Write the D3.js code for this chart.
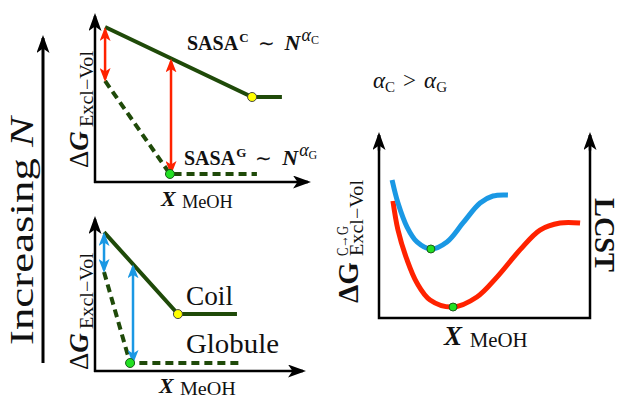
<!DOCTYPE html>
<html>
<head>
<meta charset="utf-8">
<script src="https://cdn.jsdelivr.net/npm/d3@7"></script>
<style>
  body { margin: 0; background: #fff; }
</style>
</head>
<body>
<div id="chart"></div>
<script>
// values, in arbitrary units 0..10
var topCoil = [[0.48, 9.28], [7.48, 5.09], [8.9, 5.09]];
var topGlobule = [[0.48, 6.05], [3.57, 0.48], [7.71, 0.48]];
var topArrowX = [0.48, 3.62];

var botCoil = [[0.43, 9.2], [3.95, 3.77], [6.76, 3.77]];
var botGlobule = [[0.43, 6.56], [1.67, 0.53], [6.9, 0.53]];
var botArrowX = [0.43, 1.81];

var blueCurve = [[0.62, 7.42], [0.9, 6.18], [1.33, 4.89], [1.8, 4.09], [2.46, 3.71],
  [3.22, 4.09], [3.98, 5.11], [4.79, 6.18], [5.4, 6.56], [6.11, 6.61]];
var redCurve = [[0.66, 6.29], [0.9, 4.73], [1.33, 3.12], [1.8, 1.88], [2.42, 0.97],
  [3.51, 0.59], [4.64, 1.13], [5.59, 2.2], [6.68, 3.66], [7.63, 4.73], [8.58, 5.11], [9.53, 5.11]];
var blueMin = [2.46, 3.71];
var redMin = [3.51, 0.59];

var width = 622, height = 399;
var green = '#1f4a09', red = '#ff2200', blue = '#1a98e4';
var serif = '"Liberation Serif", "Times New Roman", serif';

var svg = d3.select('#chart').append('svg')
  .attr('width', width)
  .attr('height', height)
  .style('font-family', serif)
  .style('fill', '#111');

var defs = svg.append('defs');
function marker(id, color, w, h) {
  defs.append('marker')
    .attr('id', id)
    .attr('viewBox', '0 0 ' + w + ' ' + h)
    .attr('refX', w - 3)
    .attr('refY', h / 2)
    .attr('markerWidth', w)
    .attr('markerHeight', h)
    .attr('markerUnits', 'userSpaceOnUse')
    .attr('orient', 'auto-start-reverse')
    .append('path')
    .attr('d', 'M0,0 L' + w + ',' + h / 2 + ' L0,' + h + ' L' + w * 0.25 + ',' + h / 2 + 'Z')
    .attr('fill', color);
}
marker('tipBlack', '#000', 18, 13);
marker('tipRed', red, 14, 11);
marker('tipBlue', blue, 14, 11);

function arrowLine(g, x1, y1, x2, y2, color, w, mk, both) {
  var l = g.append('line')
    .attr('x1', x1).attr('y1', y1).attr('x2', x2).attr('y2', y2)
    .attr('stroke', color).attr('stroke-width', w)
    .attr('marker-end', 'url(#' + mk + ')');
  if (both) l.attr('marker-start', 'url(#' + mk + ')');
}

function lerp(pts, x) {
  for (var i = 0; i < pts.length - 1; i++) {
    if (x <= pts[i + 1][0]) {
      var t = (x - pts[i][0]) / (pts[i + 1][0] - pts[i][0]);
      return pts[i][1] + t * (pts[i + 1][1] - pts[i][1]);
    }
  }
  return pts[pts.length - 1][1];
}

// Increasing N arrow
arrowLine(svg, 43, 363, 43, 38, '#000', 3, 'tipBlack');
svg.append('text')
  .attr('transform', 'translate(33,345) rotate(-90)')
  .attr('font-size', 33)
  .attr('textLength', 228).attr('lengthAdjust', 'spacingAndGlyphs')
  .html('Increasing <tspan font-style="italic">N</tspan>');

// left panels
var xL = d3.scaleLinear().domain([0, 10]).range([95, 305]);

function leftPanel(y, coil, globule, arrowX, arrowColor, arrowMk, tipX, tipY) {
  var g = svg.append('g');
  var line = d3.line().x(function(d) { return xL(d[0]); }).y(function(d) { return y(d[1]); });

  arrowLine(g, xL(0), y(0) + 1, xL(0), tipY + 3, '#000', 2.5, 'tipBlack');
  arrowLine(g, xL(0) - 1, y(0), tipX - 3, y(0), '#000', 2.5, 'tipBlack');

  g.append('path').datum(globule)
    .attr('d', line).attr('fill', 'none')
    .attr('stroke', green).attr('stroke-width', 4)
    .attr('stroke-dasharray', '8,5');
  g.append('path').datum(coil)
    .attr('d', line).attr('fill', 'none')
    .attr('stroke', green).attr('stroke-width', 4);

  arrowX.forEach(function(x) {
    var y1 = y(lerp(coil, x)) + 3, y2 = y(lerp(globule, x)) - 2;
    arrowLine(g, xL(x), y1, xL(x), y2, arrowColor, 2.5, arrowMk, true);
  });

  g.append('circle').attr('cx', xL(coil[1][0])).attr('cy', y(coil[1][1])).attr('r', 4.5)
    .attr('fill', '#ffff00').attr('stroke', '#444').attr('stroke-width', 1);
  g.append('circle').attr('cx', xL(globule[1][0])).attr('cy', y(globule[1][1])).attr('r', 4.5)
    .attr('fill', '#22e022').attr('stroke', '#1a5a1a').attr('stroke-width', 1);
  return g;
}

var yTop = d3.scaleLinear().domain([0, 10]).range([182, 15]);
var yBot = d3.scaleLinear().domain([0, 10]).range([371, 220]);
var gTop = leftPanel(yTop, topCoil, topGlobule, topArrowX, red, 'tipRed', 311, 13);
var gBot = leftPanel(yBot, botCoil, botGlobule, botArrowX, blue, 'tipBlue', 306, 216);

function dgLabel(g, x, y) {
  var t = g.append('g').attr('transform', 'translate(' + x + ',' + y + ') rotate(-90)');
  t.append('text').attr('font-size', 27)
    .html('Δ<tspan font-weight="bold" font-style="italic">G</tspan>');
  t.append('text').attr('x', 41).attr('y', 5).attr('font-size', 18)
    .attr('textLength', 76).attr('lengthAdjust', 'spacingAndGlyphs').text('Excl−Vol');
}
dgLabel(gTop, 88, 168);
dgLabel(gBot, 88, 370);

function xLabel(g, x, y, big, small, w) {
  g.append('text').attr('x', x).attr('y', y).attr('font-size', big)
    .html('<tspan font-weight="bold" font-style="italic">X</tspan>');
  g.append('text').attr('x', x + big * 0.95).attr('y', y + 2).attr('font-size', small)
    .attr('textLength', w).attr('lengthAdjust', 'spacingAndGlyphs').text('MeOH');
}
xLabel(gTop, 161, 206, 22, 18, 51);
xLabel(gBot, 159, 393, 22, 18, 56);

function sasa(g, x, y, s) {
  g.append('text').attr('x', x).attr('y', y).attr('font-size', 20)
    .html('<tspan font-weight="bold">SASA</tspan><tspan dx="1" dy="-8" font-size="13" font-weight="bold">' + s + '</tspan>' +
      '<tspan dx="9" dy="8">∼</tspan><tspan dx="10" font-size="22" font-weight="bold" font-style="italic">N</tspan>' +
      '<tspan dx="1" dy="-9" font-size="18" font-style="italic">α</tspan><tspan dy="3" font-size="12">' + s + '</tspan>');
}
sasa(gTop, 187, 50, 'C');
sasa(gTop, 184, 165, 'G');

gBot.append('text').attr('x', 186).attr('y', 305).attr('font-size', 27)
  .attr('textLength', 47).attr('lengthAdjust', 'spacingAndGlyphs').text('Coil');
gBot.append('text').attr('x', 186).attr('y', 353).attr('font-size', 27)
  .attr('textLength', 93).attr('lengthAdjust', 'spacingAndGlyphs').text('Globule');

// right panel
var xR = d3.scaleLinear().domain([0, 10]).range([379, 590]);
var yR = d3.scaleLinear().domain([0, 10]).range([318, 132]);
var gR = svg.append('g');

gR.append('path')
  .attr('d', 'M' + xR(0) + ',' + (yR(10) + 3) + 'V' + yR(0) + 'H' + xR(10) + 'V' + (yR(10) + 3))
  .attr('fill', 'none').attr('stroke', '#000').attr('stroke-width', 2.5);
arrowLine(gR, xR(0), yR(9), xR(0), yR(10) + 3, '#000', 2.5, 'tipBlack');
arrowLine(gR, xR(10), yR(9), xR(10), yR(10) + 3, '#000', 2.5, 'tipBlack');

var curve = d3.line().curve(d3.curveCatmullRom)
  .x(function(d) { return xR(d[0]); }).y(function(d) { return yR(d[1]); });
gR.append('path').datum(redCurve).attr('d', curve).attr('fill', 'none')
  .attr('stroke', red).attr('stroke-width', 5);
gR.append('path').datum(blueCurve).attr('d', curve).attr('fill', 'none')
  .attr('stroke', blue).attr('stroke-width', 5);
[blueMin, redMin].forEach(function(d) {
  gR.append('circle').attr('cx', xR(d[0])).attr('cy', yR(d[1])).attr('r', 4)
    .attr('fill', '#22e022').attr('stroke', '#1a5a1a').attr('stroke-width', 1);
});

xLabel(gR, 444, 345, 27, 20, 58);

var rl = gR.append('g').attr('transform', 'translate(358,303) rotate(-90)');
rl.append('text').attr('font-size', 29).attr('font-weight', 'bold').text('ΔG');
rl.append('text').attr('x', 47).attr('y', -10).attr('font-size', 16)
  .attr('textLength', 30).attr('lengthAdjust', 'spacingAndGlyphs').text('C→G');
rl.append('text').attr('x', 47).attr('y', 5).attr('font-size', 18)
  .attr('textLength', 76).attr('lengthAdjust', 'spacingAndGlyphs').text('Excl−Vol');

gR.append('text').attr('transform', 'translate(595,198) rotate(90)')
  .attr('font-size', 29).attr('font-weight', 'bold')
  .attr('textLength', 74).attr('lengthAdjust', 'spacingAndGlyphs').text('LCST');

gR.append('text').attr('x', 373).attr('y', 88).attr('font-size', 23)
  .html('<tspan font-style="italic">α</tspan><tspan dy="4" font-size="15">C</tspan>' +
    '<tspan dx="8" dy="-4">&gt;</tspan><tspan dx="8" font-style="italic">α</tspan><tspan dy="4" font-size="15">G</tspan>');
</script>
</body>
</html>
